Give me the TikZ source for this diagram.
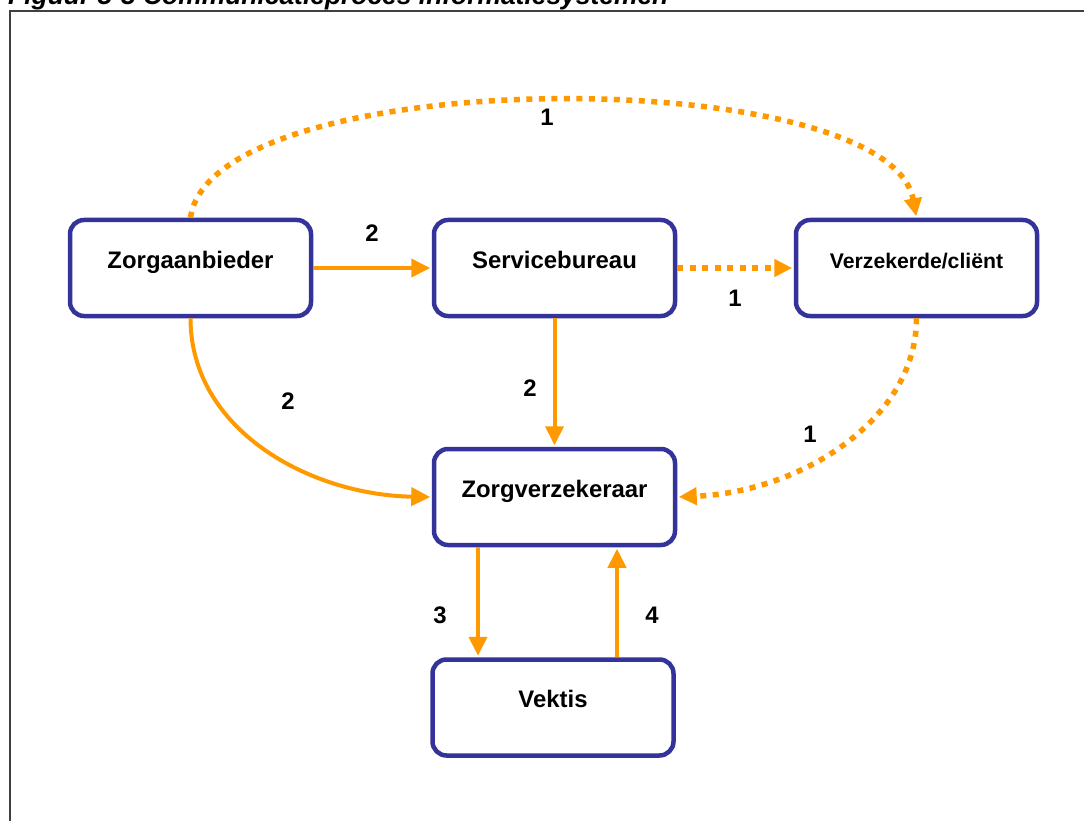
\documentclass[tikz,border=0pt]{standalone}
\usepackage{fontspec}
\setmainfont{Liberation Sans}
\usetikzlibrary{arrows.meta}
\definecolor{boxblue}{HTML}{333399}
\definecolor{arrorange}{HTML}{FF9900}
\tikzset{
  stdbox/.style={draw=boxblue, line width=4.5pt, rounded corners=14pt, fill=white,
    minimum width=241pt, minimum height=96pt, inner sep=0pt,
    text height=17pt, text depth=17pt, font=\fontsize{23.9}{28}\selectfont\bfseries},
  smallbox/.style={stdbox, font=\fontsize{21.2}{25}\selectfont\bfseries},
  flow/.style={draw=arrorange, line width=4pt, -{Triangle[length=19pt,width=18pt]}, shorten >=1.5pt},
  dotflow/.style={flow, line width=5.5pt, dash pattern=on 6pt off 6.5pt, -{Triangle[length=18pt,width=17pt]}},
  num/.style={font=\fontsize{23.9}{28}\selectfont\bfseries, inner sep=0pt},
}
\begin{document}
\begin{tikzpicture}[x=1pt,y=-1pt]
\useasboundingbox (0,0) rectangle (1084,821);
\clip (0,0) rectangle (1084,821);
\fill[white] (0,0) rectangle (1084,821);
% title (cut off at top)
\node[anchor=base west, inner sep=0pt, font=\fontsize{26.4}{30}\selectfont\bfseries\itshape] (title) at (8,5) {Figuur 5-3 Communicatieproces informatiesystemen};
% frame
\draw[line width=1.5pt, black!75] (10,900) -- (10,11) -- (1200,11);

% boxes
\node[stdbox] (za) at (190.5,268) {Zorgaanbieder};
\node[stdbox] (sb) at (554.5,268) {Servicebureau};
\node[smallbox] (vc) at (916.5,268) {Verzekerde/cliënt};
\node[stdbox] (zv) at (554.5,497) {Zorgverzekeraar};
\node[stdbox] (vk) at (553,707.5) {Vektis};

% connectors
\draw[flow] (za.east) -- (sb.west);
\draw[dotflow] (sb.east) -- (vc.west);
\draw[flow] (sb.south) -- (zv.north);
\draw[flow] ([xshift=-76.5pt]zv.south) -- ([xshift=-75pt]vk.north);
\draw[flow] ([xshift=64pt]vk.north) -- ([xshift=62.5pt]zv.south);
\draw[dotflow] (za.north) .. controls (212,62) and (888,62) .. (vc.north);
\draw[flow] (za.south) .. controls (190.5,430) and (310,495) .. (zv.west);
\draw[dotflow] (vc.south) .. controls (916.5,420) and (800,492) .. (zv.east);

% labels
\node[num] (l1) at (547,117) {1};
\node[num] (l2) at (372,233) {2};
\node[num] (l3) at (735,298) {1};
\node[num] (l4) at (288,401) {2};
\node[num] (l5) at (530,388) {2};
\node[num] (l6) at (810,434) {1};
\node[num] (l7) at (440,615) {3};
\node[num] (l8) at (652,615) {4};
\end{tikzpicture}
\end{document}
